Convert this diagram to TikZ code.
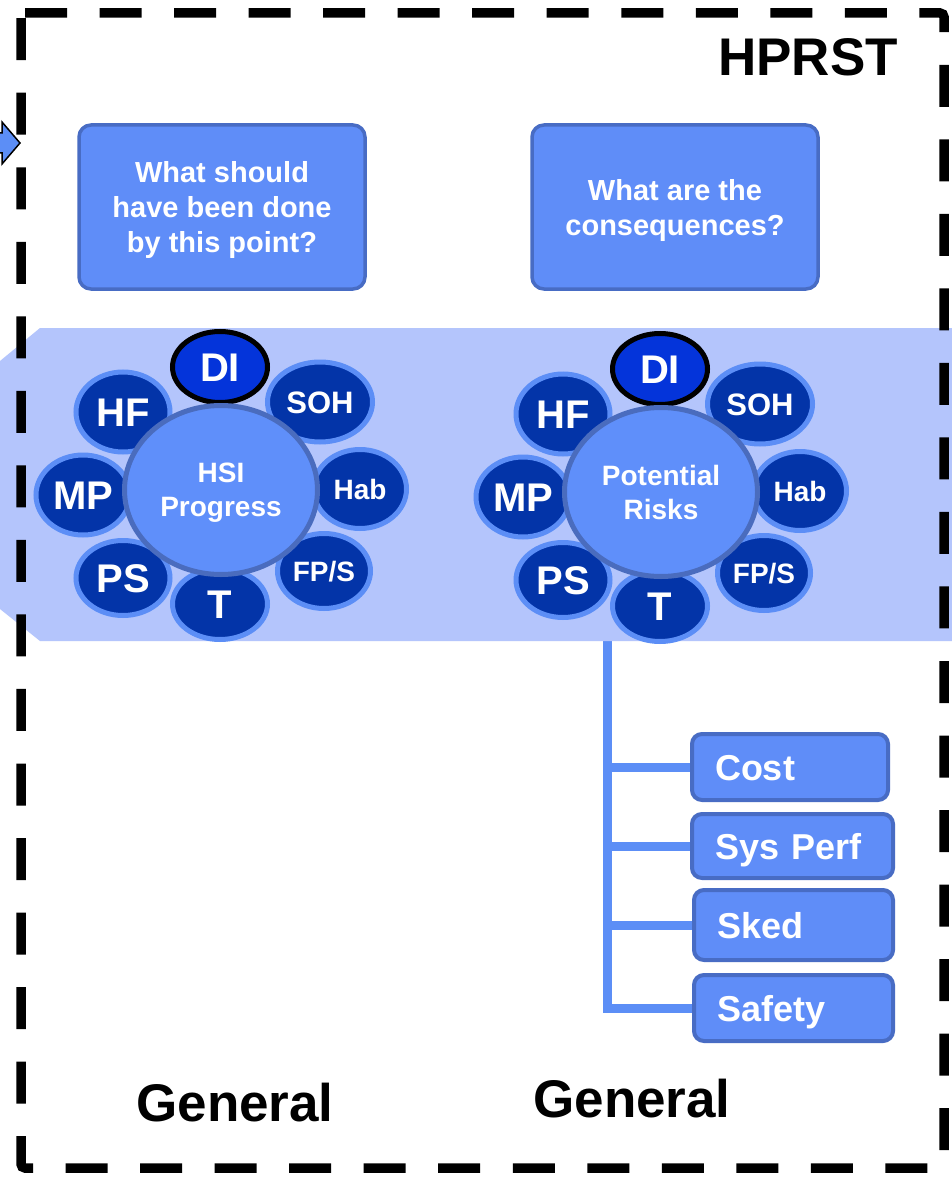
\documentclass[tikz,border=0pt]{standalone}
\usepackage{fontspec}
\setmainfont{Liberation Sans}
\usetikzlibrary{shapes.geometric,backgrounds}
\definecolor{boxfill}{RGB}{95,141,248}
\definecolor{boxline}{RGB}{72,108,196}
\definecolor{bandfill}{RGB}{180,197,252}
\definecolor{petalfill}{RGB}{3,52,168}
\definecolor{petalline}{RGB}{92,142,246}
\definecolor{difill}{RGB}{4,52,218}
\definecolor{centrefill}{RGB}{95,143,250}
\definecolor{centreline}{RGB}{74,108,190}
\definecolor{linkcol}{RGB}{92,142,246}
\newcommand{\myfs}[2]{\fontsize{#1pt}{#2pt}\selectfont}
\newcommand{\flowerset}[4]{%
\begin{scope}[shift={(#2,#3)}]
\node[petal, minimum width=94pt, minimum height=80pt] (#1mp) at (83,495) {MP};
\node[petal, minimum width=94pt, minimum height=80pt] (#1hf) at (123,412) {HF};
\node[petal, minimum width=94pt, minimum height=75pt] (#1ps) at (123,578) {PS};
\node[petal, minimum width=95pt, minimum height=71pt] (#1t) at (220,604) {T};
\node[petalsm, minimum width=93pt, minimum height=75pt] (#1fps) at (324,571) {FP/S};
\node[petalsm, minimum width=93pt, minimum height=79pt] (#1hab) at (360,489) {Hab};
\node[petalmd, minimum width=105pt, minimum height=80pt] (#1soh) at (320,402) {SOH};
\node[petal, fill=difill, draw=black, minimum width=95pt, minimum height=71pt] (#1di) at (220,367) {DI};
\node[centre] (#1c) at (221,490) {#4};
\end{scope}}
\begin{document}
\begin{tikzpicture}[x=1pt,y=-1pt,
  qbox/.style={draw=boxline, line width=3.5pt, fill=boxfill, rounded corners=12pt,
    text=white, font=\bfseries\myfs{29}{35}, align=center,
    minimum width=286pt, minimum height=164pt, inner sep=0pt, text depth=0pt},
  petal/.style={ellipse, draw=petalline, line width=5pt, fill=petalfill, text=white,
    font=\bfseries\myfs{40}{48}, inner sep=0pt, text height=28.6pt, text depth=0pt},
  petalmd/.style={petal, font=\bfseries\myfs{31}{37}, text height=22.2pt},
  petalsm/.style={petal, font=\bfseries\myfs{28}{34}, text height=20pt},
  centre/.style={ellipse, draw=centreline, line width=5pt, fill=centrefill, text=white,
    font=\bfseries\myfs{28}{34}, align=center, inner sep=0pt, text depth=0pt,
    minimum width=193pt, minimum height=169pt},
  cbox/.style={draw=boxline, line width=4pt, fill=boxfill, rounded corners=10pt,
    text=white, font=\bfseries\myfs{36}{43}, align=left, inner xsep=23pt, inner ysep=0pt,
    text height=26pt, text depth=0pt},
  link/.style={draw=linkcol, line width=9pt},
  biglabel/.style={font=\bfseries\myfs{53}{60}, text=black, inner sep=0pt,
    text height=38pt, text depth=0pt}
]
\useasboundingbox (0,0) rectangle (952,1182);
\clip (0,0) rectangle (952,1182);
\begin{pgfonlayer}{background}
\fill[white] (0,0) rectangle (952,1182);
\end{pgfonlayer}

% band
\fill[bandfill] (40,328) -- (960,328) -- (960,641) -- (40,641) -- (0,609) -- (0,361) -- cycle;

% small incoming arrow
\filldraw[fill=linkcol, draw=black, line width=1.5pt]
  (-10,133) -- (2,133) -- (2,122) -- (20,143) -- (2,164) -- (2,153) -- (-10,153) -- cycle;

% question boxes
\node[qbox] (q1) at (222,207) {What should\\have been done\\by this point?};
\node[qbox] (q2) at (675,207) {What are the\\consequences?};

% flowers
\flowerset{a}{0}{0}{HSI\\Progress}
\flowerset{b}{440}{2}{Potential\\Risks}

% consequence boxes
\node[cbox, text width=150pt, minimum height=66pt] (cost) at (790,767) {Cost};
\node[cbox, text width=155pt, minimum height=64pt] (perf) at (792.5,846) {Sys Perf};
\node[cbox, text width=153pt, minimum height=70pt] (sked) at (793.5,925) {Sked};
\node[cbox, text width=153pt, minimum height=66pt] (safe) at (793.5,1008) {Safety};

\coordinate (trunk) at (607,600);
\begin{pgfonlayer}{background}
\draw[link] (trunk) -- (trunk |- safe.west) -- (safe.west);
\draw[link] (trunk |- cost.west) -- (cost.west);
\draw[link] (trunk |- perf.west) -- (perf.west);
\draw[link] (trunk |- sked.west) -- (sked.west);
\end{pgfonlayer}

% labels
\node[biglabel] (hprst) at (808,57) {HPRST};
\node[biglabel] (gen1) at (235,1102) {General};
\node[biglabel] (gen2) at (632,1098) {General};

% dashed frame
\draw[black, line width=9.5pt, dash pattern=on 42pt off 32.53pt, rounded corners=4pt]
  (21,13) -- (944,13) -- (944,1168) -- (21,1168) -- cycle;
\end{tikzpicture}
\end{document}
